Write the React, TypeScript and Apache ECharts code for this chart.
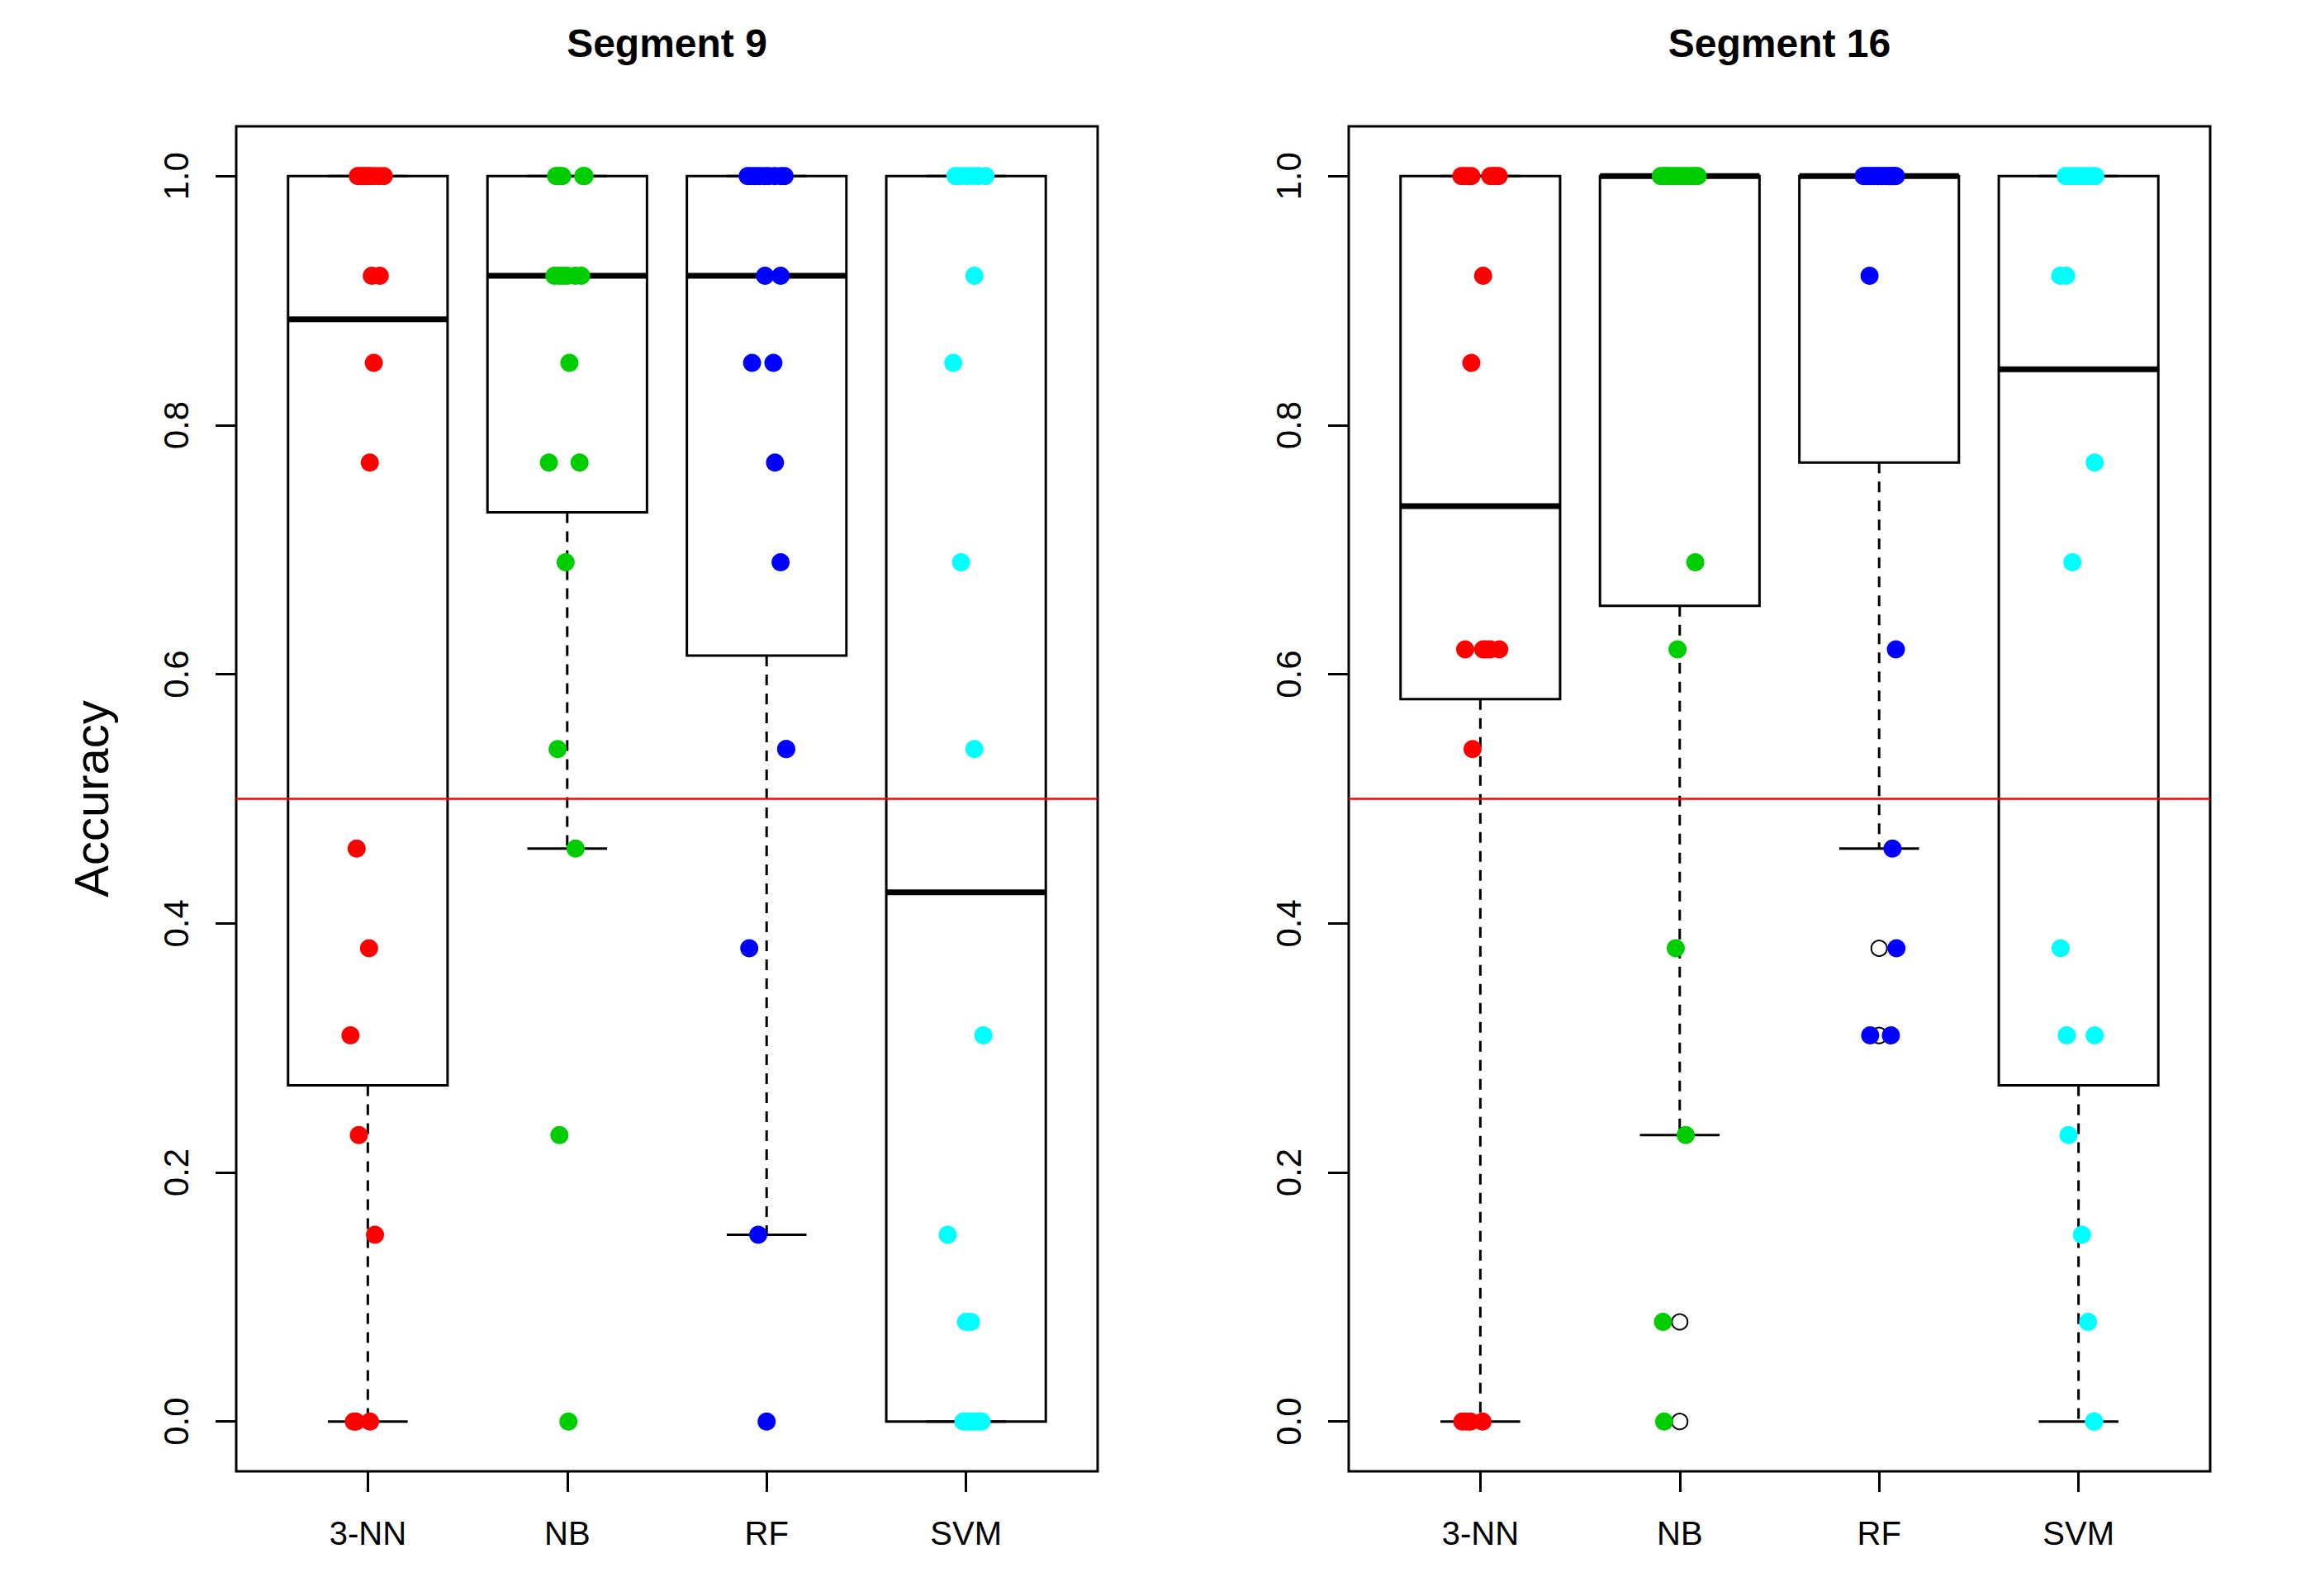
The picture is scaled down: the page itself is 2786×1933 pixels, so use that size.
import React, { useEffect, useRef } from "react";
import * as echarts from "echarts";

// ---------------- data ----------------
const categories = ["3-NN", "NB", "RF", "SVM"];
const panelTitles = ["Segment 9", "Segment 16"];
const yTickValues = [0, 0.2, 0.4, 0.6, 0.8, 1.0];
const pointColors = ["#FF0000", "#00CD00", "#0000FF", "#00FFFF"];
const referenceLevel = 0.5;

// box statistics: [lower whisker, Q1, median, Q3, upper whisker]
const seg9Stats = [
  [0, 0.27, 0.885, 1, 1],
  [0.46, 0.73, 0.92, 1, 1],
  [0.15, 0.615, 0.92, 1, 1],
  [0, 0, 0.425, 1, 1],
];
const seg16Stats = [
  [0, 0.58, 0.735, 1, 1],
  [0.23, 0.655, 1, 1, 1],
  [0.46, 0.77, 1, 1, 1],
  [0, 0.27, 0.845, 1, 1],
];

// outliers drawn by the boxplot (open circles)
const seg9Outliers = [[], [], [], []];
const seg16Outliers = [[], [0.08, 0], [0.38, 0.31], []];

// accuracy values of each classifier
const seg9Values = [
  [1, 1, 1, 1, 1, 1, 1, 1, 0.92, 0.92, 0.85, 0.77, 0.46, 0.38, 0.31, 0.23, 0.15, 0, 0, 0],
  [1, 1, 1, 1, 1, 1, 0.92, 0.92, 0.92, 0.92, 0.92, 0.92, 0.85, 0.77, 0.77, 0.69, 0.54, 0.46, 0.23, 0],
  [1, 1, 1, 1, 1, 1, 1, 1, 1, 0.92, 0.92, 0.85, 0.85, 0.77, 0.69, 0.54, 0.54, 0.38, 0.15, 0],
  [1, 1, 1, 1, 1, 1, 0.92, 0.85, 0.69, 0.54, 0.31, 0.15, 0.08, 0.08, 0, 0, 0, 0, 0, 0],
];
const seg16Values = [
  [1, 1, 1, 1, 1, 1, 1, 1, 0.92, 0.85, 0.62, 0.62, 0.62, 0.62, 0.62, 0.54, 0, 0, 0, 0],
  [1, 1, 1, 1, 1, 1, 1, 1, 1, 1, 1, 1, 1, 1, 0.69, 0.62, 0.38, 0.23, 0.08, 0],
  [1, 1, 1, 1, 1, 1, 1, 1, 1, 1, 1, 1, 1, 1, 0.92, 0.62, 0.46, 0.38, 0.31, 0.31],
  [1, 1, 1, 1, 1, 1, 1, 1, 0.92, 0.92, 0.77, 0.69, 0.38, 0.31, 0.31, 0.23, 0.15, 0.08, 0, 0],
];

// horizontal jitter of each point (category units)
const seg9Jitter = [
  [-0.05, -0.035, -0.02, -0.005, 0.01, 0.03, 0.055, 0.08, 0.02, 0.06, 0.03, 0.01, -0.056, 0.006, -0.087, -0.045, 0.036, -0.07, -0.06, 0.011],
  [-0.056, -0.045, -0.035, -0.025, 0.08, 0.087, -0.064, -0.04, -0.02, 0.0, 0.04, 0.07, 0.011, -0.092, 0.062, -0.008, -0.048, 0.042, -0.039, 0.006],
  [-0.095, -0.075, -0.055, -0.035, -0.01, 0.01, 0.04, 0.07, 0.09, -0.008, 0.07, -0.073, 0.034, 0.042, 0.07, 0.098, 0.098, -0.087, -0.042, 0.0],
  [-0.053, -0.03, 0.0, 0.03, 0.06, 0.098, 0.042, -0.064, -0.025, 0.042, 0.087, -0.092, 0.0, 0.025, -0.013, 0.0, 0.02, 0.04, 0.06, 0.078],
];
const seg16Jitter = [
  [-0.095, -0.08, -0.06, -0.045, 0.05, 0.065, 0.08, 0.092, 0.014, -0.045, -0.076, 0.014, 0.03, 0.05, 0.095, -0.039, -0.09, -0.07, -0.05, 0.011],
  [-0.095, -0.08, -0.07, -0.06, -0.045, -0.03, -0.015, 0.0, 0.015, 0.03, 0.05, 0.065, 0.08, 0.09, 0.078, -0.011, -0.02, 0.03, -0.084, -0.078],
  [-0.078, -0.065, -0.05, -0.04, -0.025, -0.01, 0.0, 0.015, 0.03, 0.045, 0.055, 0.065, 0.075, 0.084, -0.048, 0.084, 0.067, 0.087, -0.045, 0.059],
  [-0.064, -0.04, -0.02, 0.0, 0.02, 0.045, 0.065, 0.084, -0.092, -0.062, 0.081, -0.031, -0.09, -0.059, 0.081, -0.05, 0.017, 0.048, 0.078, 0.078],
];

// ---------------- layout / style ----------------
const FONT = "'Liberation Sans', Arial, Helvetica, sans-serif";
const GRID_LEFTS = [286, 1633];
const GRID_TOP = 153;
const GRID_W = 1043;
const GRID_H = 1629;
const X_MIN = 0.34;
const X_MAX = 4.66;
const Y_MIN = -0.04;
const Y_MAX = 1.04;

const panelStats = [seg9Stats, seg16Stats];
const panelOutliers = [seg9Outliers, seg16Outliers];
const panelValues = [seg9Values, seg16Values];
const panelJitter = [seg9Jitter, seg16Jitter];

const renderBox = (_params: any, api: any) => {
  const k = api.value(0);
  const lo = api.value(1);
  const q1 = api.value(2);
  const med = api.value(3);
  const q3 = api.value(4);
  const hi = api.value(5);
  const boxW = api.size([0.8, 0])[0];
  const capW = boxW / 2;
  const pLo = api.coord([k, lo]);
  const pQ1 = api.coord([k, q1]);
  const pMed = api.coord([k, med]);
  const pQ3 = api.coord([k, q3]);
  const pHi = api.coord([k, hi]);
  const cx = pLo[0];
  const dashed = { stroke: "#000", lineWidth: 3, lineDash: [13, 10], fill: null };
  const solid = { stroke: "#000", lineWidth: 3, fill: null };
  return {
    type: "group",
    children: [
      { type: "line", shape: { x1: cx, y1: pHi[1], x2: cx, y2: pQ3[1] }, style: dashed },
      { type: "line", shape: { x1: cx, y1: pQ1[1], x2: cx, y2: pLo[1] }, style: dashed },
      { type: "line", shape: { x1: cx - capW / 2, y1: pHi[1], x2: cx + capW / 2, y2: pHi[1] }, style: solid },
      { type: "line", shape: { x1: cx - capW / 2, y1: pLo[1], x2: cx + capW / 2, y2: pLo[1] }, style: solid },
      {
        type: "rect",
        shape: { x: cx - boxW / 2, y: pQ3[1], width: boxW, height: pQ1[1] - pQ3[1] },
        style: { fill: "none", stroke: "#000", lineWidth: 3 },
      },
      {
        type: "line",
        shape: { x1: cx - boxW / 2, y1: pMed[1], x2: cx + boxW / 2, y2: pMed[1] },
        style: { stroke: "#000", lineWidth: 7 },
      },
    ],
  };
};

function buildOption() {
  const grids = GRID_LEFTS.map((left) => ({
    left,
    top: GRID_TOP,
    width: GRID_W,
    height: GRID_H,
    show: true,
    borderColor: "#000",
    borderWidth: 3,
    backgroundColor: "transparent",
    containLabel: false,
  }));

  const xAxes = GRID_LEFTS.map((_, p) => ({
    type: "value",
    gridIndex: p,
    position: "bottom",
    min: X_MIN,
    max: X_MAX,
    axisLine: { show: false, onZero: false },
    splitLine: { show: false },
    axisTick: {
      show: true,
      inside: false,
      customValues: [1, 2, 3, 4],
      length: 25,
      lineStyle: { color: "#000", width: 3 },
    },
    axisLabel: {
      show: true,
      customValues: [1, 2, 3, 4],
      formatter: (v: number) => categories[Math.round(v) - 1] ?? "",
      fontSize: 40,
      fontFamily: FONT,
      color: "#000",
      margin: 55,
    },
  }));

  const yAxes = GRID_LEFTS.map((_, p) => ({
    type: "value",
    gridIndex: p,
    position: "left",
    min: Y_MIN,
    max: Y_MAX,
    name: p === 0 ? "Accuracy" : "",
    nameLocation: "middle",
    nameRotate: 90,
    nameGap: 147,
    nameMoveOverlap: false,
    nameTextStyle: { fontSize: 58, fontFamily: FONT, color: "#000" },
    axisLine: { show: false, onZero: false },
    splitLine: { show: false },
    axisTick: {
      show: true,
      inside: false,
      customValues: yTickValues,
      length: 25,
      lineStyle: { color: "#000", width: 3 },
    },
    axisLabel: {
      show: true,
      customValues: yTickValues,
      rotate: 90,
      formatter: (v: number) => v.toFixed(1),
      fontSize: 42,
      fontFamily: FONT,
      color: "#000",
      margin: 52,
    },
  }));

  const series: any[] = [];
  for (let p = 0; p < 2; p++) {
    series.push({
      type: "custom",
      name: panelTitles[p] + " boxes",
      xAxisIndex: p,
      yAxisIndex: p,
      silent: true,
      z: 2,
      renderItem: renderBox,
      encode: { x: 0, y: [1, 2, 3, 4, 5] },
      data: panelStats[p].map((s, k) => [k + 1, ...s]),
    });
    series.push({
      type: "scatter",
      name: panelTitles[p] + " reference",
      xAxisIndex: p,
      yAxisIndex: p,
      silent: true,
      data: [],
      markLine: {
        silent: true,
        z: 3,
        symbol: ["none", "none"],
        label: { show: false },
        lineStyle: { color: "#FF0000", width: 2.5, type: "solid" },
        emphasis: { disabled: true },
        data: [{ yAxis: referenceLevel }],
      },
    });
    series.push({
      type: "scatter",
      name: panelTitles[p] + " outliers",
      xAxisIndex: p,
      yAxisIndex: p,
      silent: true,
      z: 4,
      symbol: "emptyCircle",
      symbolSize: 19,
      itemStyle: { color: "#000", borderWidth: 2.5, opacity: 1 },
      data: panelOutliers[p].flatMap((vals, k) => vals.map((v) => [k + 1, v])),
    });
    for (let k = 0; k < categories.length; k++) {
      series.push({
        type: "scatter",
        name: panelTitles[p] + " " + categories[k],
        xAxisIndex: p,
        yAxisIndex: p,
        silent: true,
        z: 6,
        symbol: "circle",
        symbolSize: 22,
        itemStyle: { color: pointColors[k], opacity: 1, borderWidth: 0 },
        data: panelValues[p][k].map((v, i) => [k + 1 + panelJitter[p][k][i], v]),
      });
    }
  }

  const titles = GRID_LEFTS.map((left, p) => ({
    text: panelTitles[p],
    left: left + GRID_W / 2,
    top: 28,
    textAlign: "center",
    padding: 0,
    textStyle: { fontSize: 48, fontWeight: "bold", fontFamily: FONT, color: "#000" },
  }));

  return {
    animation: false,
    backgroundColor: "#fff",
    title: titles,
    grid: grids,
    xAxis: xAxes,
    yAxis: yAxes,
    series,
  };
}

export default function App() {
  const ref = useRef<HTMLDivElement>(null);
  useEffect(() => {
    if (!ref.current) return;
    const chart = echarts.init(ref.current, undefined, { renderer: "svg" });
    chart.setOption(buildOption() as any);
    return () => chart.dispose();
  }, []);
  return (
    <div
      ref={ref}
      style={{ position: "absolute", left: 0, top: 0, width: 2786, height: 1933, background: "#fff" }}
    />
  );
}
